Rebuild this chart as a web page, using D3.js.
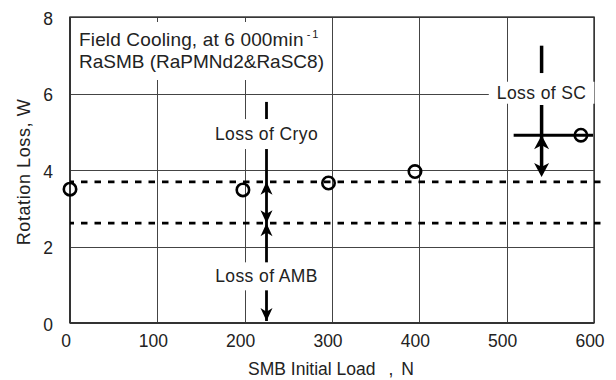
<!DOCTYPE html>
<html>
<head>
<meta charset="utf-8">
<script src="https://cdn.jsdelivr.net/npm/d3@7/dist/d3.min.js"></script>
<style>
  body { margin: 0; background: #fff; }
  svg { font-family: "Liberation Sans", Arial, sans-serif; }
  .grid line { stroke: #444; stroke-width: 1; shape-rendering: crispEdges; }
  .grid .domain { display: none; }
  .axis .domain, .axis line { display: none; }
  .axis text { font-size: 17.5px; fill: #222; font-family: "Liberation Sans", Arial, sans-serif; }
</style>
</head>
<body>
<div id="chart"></div>
<script>
// Rotation loss vs SMB initial load (field cooling)
var loads = [0, 198, 296, 395, 585];
var losses = [3.50, 3.48, 3.66, 3.96, 4.91];
var xTicks = [0, 100, 200, 300, 400, 500, 600];
var yTicks = [0, 2, 4, 6, 8];

// dashed reference levels (cryo+AMB, AMB)
var levels = [3.69, 2.61];

// annotation arrows, in data units
var cryoX = 225, cryoSpan = [5.78, 0];
var cryoHeads = [[3.69, -1], [2.61, 1], [2.61, -1], [0, 1]];
var scX = 540, scTop = [7.25, 6.43], scLow = [5.70, 3.82];
var scBar = [508, 599], scLevel = 4.91;
var scHeads = [[4.91, -1], [3.82, 1]];

var labelText = ['Loss of Cryo', 'Loss of AMB', 'Loss of SC'];
var labelX = [225, 225, 540];
var labelY = [4.94, 1.22, 6.02];
var labelPadY = [15, 14, 11];

var titleLines = ['Field Cooling, at 6 000min', 'RaSMB (RaPMNd2&RaSC8)'];

var width = 616,
    height = 380,
    margin = { left: 70, top: 17, right: 22, bottom: 57 };

var chartWidth = width - margin.left - margin.right;
var chartHeight = height - margin.top - margin.bottom;

var xScale = d3.scaleLinear().domain([0, 600]).range([0, chartWidth]);
var yScale = d3.scaleLinear().domain([0, 8]).range([chartHeight, 0]);

var svg = d3.select('#chart').append('svg')
    .attr('width', width)
    .attr('height', height);

var g = svg.append('g')
    .attr('transform', 'translate(' + margin.left + ',' + margin.top + ')');

// grid
g.append('g')
    .attr('class', 'grid')
    .attr('transform', 'translate(0,' + chartHeight + ')')
    .call(d3.axisBottom(xScale).tickValues(xTicks).tickSize(-chartHeight).tickFormat(''));

g.append('g')
    .attr('class', 'grid')
    .call(d3.axisLeft(yScale).tickValues(yTicks).tickSize(-chartWidth).tickFormat(''));

// frame
g.append('rect')
    .attr('width', chartWidth)
    .attr('height', chartHeight)
    .attr('fill', 'none')
    .attr('stroke', '#333')
    .attr('stroke-width', 1.4);

g.append('line')
    .attr('x1', 0).attr('x2', 0)
    .attr('y1', 0).attr('y2', chartHeight)
    .attr('stroke', '#333').attr('stroke-width', 2);

g.append('line')
    .attr('x1', 0).attr('x2', chartWidth)
    .attr('y1', chartHeight).attr('y2', chartHeight)
    .attr('stroke', '#333').attr('stroke-width', 2);

// axes (labels only)
var xAxis = g.append('g')
    .attr('class', 'axis x')
    .attr('transform', 'translate(0,' + chartHeight + ')')
    .call(d3.axisBottom(xScale).tickValues(xTicks).tickSizeInner(0).tickSizeOuter(0).tickPadding(12));
xAxis.selectAll('text').attr('dx', -4.5);

var yAxis = g.append('g')
    .attr('class', 'axis y')
    .call(d3.axisLeft(yScale).tickValues(yTicks).tickSizeInner(0).tickSizeOuter(0).tickPadding(17));
yAxis.selectAll('text').attr('dy', '0.42em');

// axis titles
var xTitle = svg.append('text')
    .attr('x', margin.left + chartWidth / 2 - 1)
    .attr('y', height - 5)
    .attr('text-anchor', 'middle')
    .attr('font-size', 17.5)
    .attr('fill', '#222');
xTitle.append('tspan').text('SMB Initial Load');
xTitle.append('tspan').attr('dx', 13).text(',');
xTitle.append('tspan').attr('dx', 8).text('N');

svg.append('text')
    .attr('transform', 'translate(30,' + (margin.top + chartHeight / 2 + 2) + ') rotate(-90)')
    .attr('text-anchor', 'middle')
    .attr('font-size', 18)
    .attr('letter-spacing', 0.6)
    .attr('fill', '#222')
    .text('Rotation Loss, W');

// dashed levels
g.selectAll('line.level')
    .data(levels)
  .enter().append('line')
    .attr('class', 'level')
    .attr('x1', xScale(0))
    .attr('x2', xScale(615))
    .attr('y1', d => yScale(d))
    .attr('y2', d => yScale(d))
    .attr('stroke', '#000')
    .attr('stroke-width', 2.8)
    .attr('stroke-dasharray', '6.5,7')
    .attr('stroke-dashoffset', -11);

// data points
g.selectAll('circle.pt')
    .data(d3.zip(loads, losses))
  .enter().append('circle')
    .attr('class', 'pt')
    .attr('cx', d => xScale(d[0]))
    .attr('cy', d => yScale(d[1]))
    .attr('r', 6.2)
    .attr('fill', 'none')
    .attr('stroke', '#000')
    .attr('stroke-width', 2.6);

// cryo / AMB arrow line
g.append('line')
    .attr('x1', xScale(cryoX)).attr('x2', xScale(cryoX))
    .attr('y1', yScale(cryoSpan[0])).attr('y2', yScale(cryoSpan[1]) - 2)
    .attr('stroke', '#000').attr('stroke-width', 2.8);

// SC arrow line
[scTop, scLow].forEach(function(s) {
  g.append('line')
    .attr('x1', xScale(scX)).attr('x2', xScale(scX))
    .attr('y1', yScale(s[0])).attr('y2', yScale(s[1]) - 4)
    .attr('stroke', '#000').attr('stroke-width', 3.5);
});

g.append('line')
    .attr('x1', xScale(scBar[0])).attr('x2', xScale(scBar[1]))
    .attr('y1', yScale(scLevel)).attr('y2', yScale(scLevel))
    .attr('stroke', '#000').attr('stroke-width', 3);

// arrowheads: dir -1 points up, 1 points down
function head(w, l) {
  return 'M0,0L' + (-w / 2) + ',' + l + 'L0,' + (l * 0.72) + 'L' + (w / 2) + ',' + l + 'Z';
}

g.selectAll('path.cryo-head')
    .data(cryoHeads)
  .enter().append('path')
    .attr('class', 'cryo-head')
    .attr('d', head(12, 13))
    .attr('transform', d => 'translate(' + xScale(cryoX) + ',' + (yScale(d[0]) - (d[0] === 0 ? 2 : 0)) + ') rotate(' + (d[1] < 0 ? 0 : 180) + ')')
    .attr('fill', '#000');

g.selectAll('path.sc-head')
    .data(scHeads)
  .enter().append('path')
    .attr('class', 'sc-head')
    .attr('d', head(15, 14))
    .attr('transform', d => 'translate(' + xScale(scX) + ',' + yScale(d[0]) + ') rotate(' + (d[1] < 0 ? 0 : 180) + ')')
    .attr('fill', '#000');

// annotation labels with white boxes
labelText.forEach(function(t, i) {
  var lg = g.append('g')
      .attr('transform', 'translate(' + xScale(labelX[i]) + ',' + yScale(labelY[i]) + ')');
  var box = lg.append('rect').attr('fill', '#fff');
  var txt = lg.append('text')
      .attr('text-anchor', 'middle')
      .attr('y', 6)
      .attr('font-size', 17.5)
      .attr('letter-spacing', 0.4)
      .attr('fill', '#222')
      .text(t);
  var w = txt.node().getComputedTextLength();
  box.attr('x', -w / 2 - 8)
      .attr('width', w + 16)
      .attr('y', -labelPadY[i])
      .attr('height', labelPadY[i] * 2);
});

// title box
var tg = g.append('g');
tg.append('rect')
    .attr('x', 1)
    .attr('y', 5)
    .attr('width', xScale(295) - 1)
    .attr('height', 58)
    .attr('fill', '#fff');

var t1 = tg.append('text')
    .attr('x', 9)
    .attr('y', 29)
    .attr('font-size', 19)
    .attr('letter-spacing', 0.15)
    .attr('fill', '#222');
t1.append('tspan').text(titleLines[0]);
t1.append('tspan')
    .attr('dx', 3)
    .attr('dy', -8)
    .attr('font-size', 11)
    .attr('letter-spacing', 2)
    .text('-1');

tg.append('text')
    .attr('x', 9)
    .attr('y', 51)
    .attr('font-size', 19)
    .attr('fill', '#222')
    .text(titleLines[1]);
</script>
</body>
</html>
